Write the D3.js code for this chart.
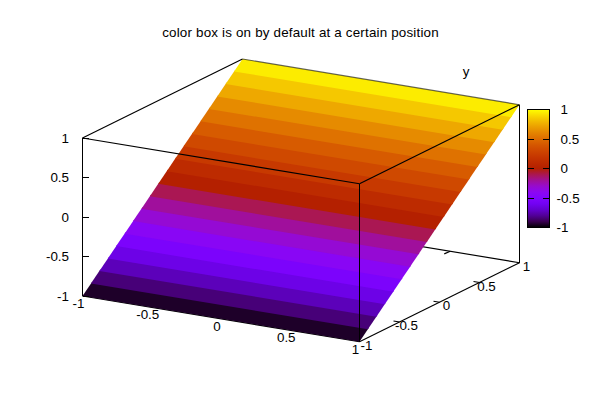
<!DOCTYPE html>
<html>
<head>
<meta charset="utf-8">
<script src="https://cdn.jsdelivr.net/npm/d3@7"></script>
<style>
html,body{margin:0;padding:0;background:#fff}
svg{display:block}
text{font-family:"Liberation Sans",Arial,sans-serif;font-size:13.4px;fill:#000;opacity:0.999}
</style>
</head>
<body>
<script>
const titleText = "color box is on by default at a certain position";
const yAxisName = "y";
const ticksMajor = [-1, -0.5, 0, 0.5, 1];
const tickLabels = ["-1", "-0.5", "0", "0.5", "1"];
// surface strip edges along y (z equals y on this surface)
const stripEdges = [-1, -0.895, -0.789, -0.684, -0.579, -0.474, -0.368, -0.263, -0.158, -0.053,
  0.053, 0.158, 0.263, 0.368, 0.474, 0.579, 0.684, 0.789, 0.895, 1];
// palette stops from z=-1 to z=1
const paletteZ = [-1,-0.9,-0.8,-0.7,-0.6,-0.5,-0.4,-0.3,-0.2,-0.1,0,0.1,0.2,0.3,0.4,0.5,0.6,0.7,0.8,0.9,1];
const paletteColors = ["#000000","#39004f","#510096","#6301ce","#7202f2","#8004ff","#8c07f2","#970bce","#a11096","#ab174f",
  "#b42000","#bd2a00","#c63700","#ce4600","#d55700","#dd6c00","#e48300","#eb9d00","#f2ba00","#f9db00","#ffff00"];

const W = 600, H = 400;
const svg = d3.select("body").append("svg").attr("width", W).attr("height", H);
svg.append("rect").attr("width", W).attr("height", H).attr("fill", "#fff");

const color = d3.scaleLinear().domain(paletteZ).range(paletteColors).interpolate(d3.interpolateRgb);

// projection: each data axis contributes a screen offset, origin at (-1,-1,-1)
const xToPx = d3.scaleLinear().domain([-1, 1]).range([0, 277]);
const xToPy = d3.scaleLinear().domain([-1, 1]).range([0, 45.7]);
const yToPx = d3.scaleLinear().domain([-1, 1]).range([0, 160]);
const yToPy = d3.scaleLinear().domain([-1, 1]).range([0, -79]);
const zToPy = d3.scaleLinear().domain([-1, 1]).range([0, -158]);
const ox = 82.5, oy = 296;
const P = (x, y, z) => [ox + xToPx(x) + yToPx(y), oy + xToPy(x) + yToPy(y) + zToPy(z)];

const line = (g, a, b) => g.append("line")
  .attr("x1", a[0]).attr("y1", a[1]).attr("x2", b[0]).attr("y2", b[1])
  .attr("stroke", "#000").attr("stroke-width", 1.15);
const crisp = (g, a, b) => line(g, a, b).attr("stroke-width", 1).attr("shape-rendering", "crispEdges");

// hidden/back lines beneath the surface
const back = svg.append("g");
line(back, P(-1, 1, -1), P(1, 1, -1));
line(back, P(-1, -1, -1), P(-1, 1, -1));
line(back, P(-1, -1, -1), P(1, -1, -1));
ticksMajor.slice(1, -1).forEach(t => {
  // x ticks on back edge and y ticks on the right-hand edge
  const a = P(t, 1, -1);
  line(back, a, [a[0] - 6, a[1] + 2.6]);
  const b = P(1, t, -1);
  line(back, b, [b[0] - 6, b[1] - 1]);
});
line(back, P(1, -1, -1), P(1, 1, -1));
crisp(back, P(1, 1, -1), P(1, 1, 1));

// surface: painted upward, each strip tucked under the next so no seams show
const surf = svg.append("g");
const strips = d3.pairs(stripEdges);
const overlap = 0.012;
surf.selectAll("path").data(strips).join("path")
  .attr("d", ([y0, y1]) => {
    const yt = Math.min(1, y1 + overlap);
    const pts = [P(-1, y0, y0), P(1, y0, y0), P(1, yt, yt), P(-1, yt, yt)];
    return "M" + pts.map(p => p.join(",")).join("L") + "Z";
  })
  .attr("fill", d => color((d[0] + d[1]) / 2));

// front lines
const front = svg.append("g");
line(front, P(-1, -1, 1), P(1, -1, 1));
line(front, P(1, -1, 1), P(1, 1, 1));
line(front, P(1, 1, 1), P(-1, 1, 1)).attr("stroke-opacity", 0.6);
line(front, P(-1, 1, 1), P(-1, -1, 1));
crisp(front, P(-1, -1, -1), P(-1, -1, 1));
crisp(front, P(1, -1, -1), P(1, -1, 1));
ticksMajor.forEach(t => {
  const a = P(-1, -1, t);
  crisp(front, a, [a[0] + 6.5, a[1]]);
});

// z tick labels
const labels = svg.append("g");
ticksMajor.forEach((t, i) => {
  const a = P(-1, -1, t);
  labels.append("text").attr("x", a[0] - 13.5).attr("y", a[1] + 1)
    .attr("text-anchor", "end").attr("dominant-baseline", "middle").text(tickLabels[i]);
});
// x tick labels
ticksMajor.forEach((t, i) => {
  const a = P(t, -1, -1);
  labels.append("text").attr("x", a[0] - 4).attr("y", a[1] + 8.5)
    .attr("text-anchor", "middle").attr("dominant-baseline", "middle").text(tickLabels[i]);
});
// y tick labels
ticksMajor.forEach((t, i) => {
  const a = P(1, t, -1);
  labels.append("text").attr("x", a[0] + 7).attr("y", a[1] + 4.6)
    .attr("text-anchor", "middle").attr("dominant-baseline", "middle").text(tickLabels[i]);
});

svg.append("text").attr("x", 300.5).attr("y", 33).attr("text-anchor", "middle")
  .attr("dominant-baseline", "middle").attr("letter-spacing", 0.18).text(titleText);
svg.append("text").attr("x", 466).attr("y", 72).attr("text-anchor", "middle")
  .attr("dominant-baseline", "middle").text(yAxisName);

// colour box
const cbY = d3.scaleLinear().domain([-1, 1]).range([227.5, 109.5]);
const cbLeft = 527.5, cbRight = 549.5;
const defs = svg.append("defs");
const grad = defs.append("linearGradient").attr("id", "cb").attr("x1", 0).attr("x2", 0).attr("y1", 1).attr("y2", 0);
paletteZ.forEach((z, i) => grad.append("stop").attr("offset", (z + 1) / 2).attr("stop-color", paletteColors[i]));
const cb = svg.append("g");
cb.append("rect").attr("x", cbLeft).attr("y", cbY(1)).attr("width", cbRight - cbLeft)
  .attr("height", cbY(-1) - cbY(1)).attr("fill", "url(#cb)").attr("stroke", "#000").attr("stroke-width", 1);
ticksMajor.forEach((t, i) => {
  const y = Math.round(cbY(t) - 0.5) + 0.5;
  if (Math.abs(t) < 1) {
    crisp(cb, [cbLeft, y], [cbLeft + 6.5, y]);
    crisp(cb, [cbRight - 6.5, y], [cbRight, y]);
  }
  cb.append("text").attr("x", t < 0 ? 556.5 : 560.5).attr("y", cbY(t) + 1.2)
    .attr("dominant-baseline", "middle").text(tickLabels[i]);
});
</script>
</body>
</html>
